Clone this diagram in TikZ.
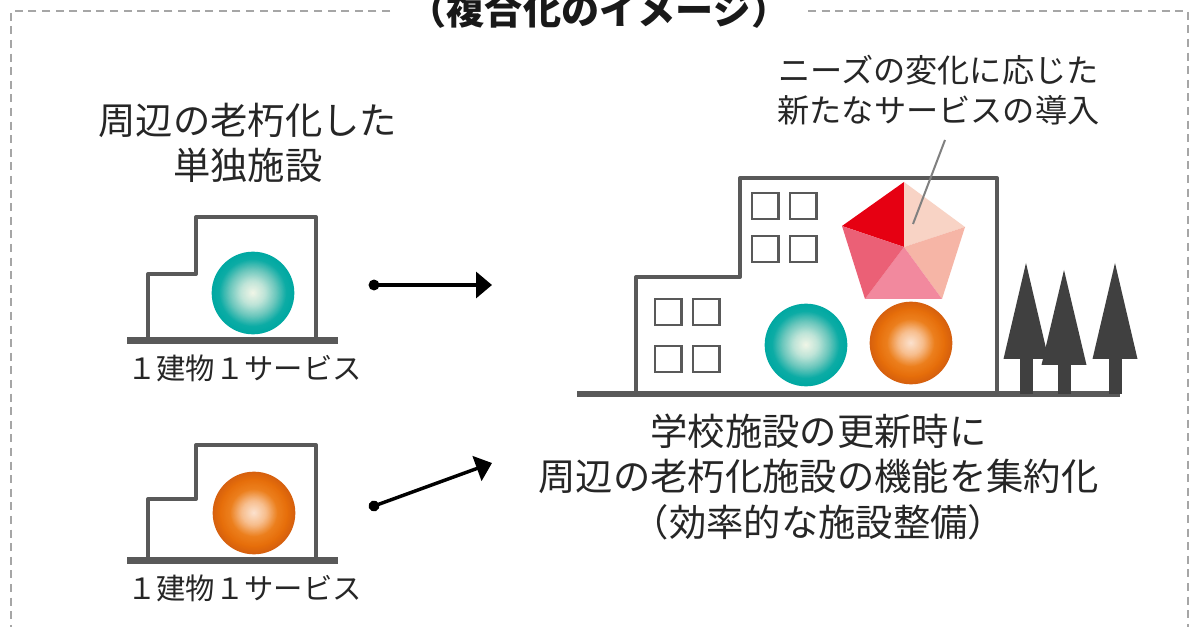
\documentclass[tikz,border=0pt]{standalone}
\usepackage{fontspec}
\setmainfont{Noto Sans CJK JP}
\usetikzlibrary{arrows.meta}
\definecolor{wall}{HTML}{595959}
\definecolor{treeg}{HTML}{404040}
\definecolor{framegray}{HTML}{A6A6A6}
\definecolor{tealA}{RGB}{244,247,232}
\definecolor{tealB}{RGB}{190,228,216}
\definecolor{tealC}{RGB}{104,198,188}
\definecolor{tealD}{RGB}{12,172,165}
\definecolor{tealE}{RGB}{0,168,162}
\definecolor{orgA}{RGB}{252,228,210}
\definecolor{orgB}{RGB}{247,190,142}
\definecolor{orgC}{RGB}{236,128,30}
\definecolor{orgD}{RGB}{230,110,10}
\definecolor{orgE}{RGB}{214,96,14}
\definecolor{petalA}{RGB}{230,0,18}
\definecolor{petalB}{RGB}{248,211,197}
\definecolor{petalC}{RGB}{246,181,166}
\definecolor{petalD}{RGB}{242,137,158}
\definecolor{petalE}{RGB}{235,96,118}
\tikzset{
  x=0.75pt,y=-0.75pt,
  wallline/.style={draw=wall,line width=3pt,line join=round},
  ground/.style={fill=wall,draw=none},
  win/.style={draw=wall,line width=2.2pt,fill=white},
  tree/.style={fill=treeg,draw=none},
  ball/.style={circle,minimum size=62pt,inner sep=0pt},
  flow/.style={line width=2.6pt,black,{Circle[length=8pt]}-{Triangle[length=12pt,width=19.5pt]},shorten <=-4pt},
  frameline/.style={framegray,line width=1.5pt,dash pattern=on 6pt off 4.2pt},
  caption/.style={align=center,font=\fontsize{28}{34}\selectfont,text=black!85,inner sep=0pt},
  small/.style={font=\fontsize{22}{26}\selectfont,text=black!85,inner sep=0pt},
}
% Ball with a radial glow built from concentric discs; #1 is the colour family
\newcommand{\glowball}[4]{%
  \node[ball,fill=#1E] (#2) at (#3,#4) {};
  \foreach \pct in {98,96,...,2}{%
    \ifnum\pct>82
      \pgfmathtruncatemacro\mixval{(\pct-82)*100/18}\colorlet{glow}{#1E!\mixval!#1D}%
    \else\ifnum\pct>58
      \pgfmathtruncatemacro\mixval{(\pct-58)*100/24}\colorlet{glow}{#1D!\mixval!#1C}%
    \else\ifnum\pct>30
      \pgfmathtruncatemacro\mixval{(\pct-30)*100/28}\colorlet{glow}{#1C!\mixval!#1B}%
    \else
      \pgfmathtruncatemacro\mixval{\pct*100/30}\colorlet{glow}{#1B!\mixval!#1A}%
    \fi\fi\fi
    \fill[glow] (#2.center) circle[radius=\pct*0.31pt];
  }}
\newcommand{\fir}[3]{%
  \fill[tree] (#1,#2) -- (#1+22.5,#3) -- (#1-22.5,#3) -- cycle;
  \fill[tree] (#1-6.5,#3) rectangle (#1+6.5,394);}
\begin{document}
\begin{tikzpicture}
\useasboundingbox (0,0) rectangle (1190,627);
\clip (0,0) rectangle (1190,627);
\fill[white] (0,0) rectangle (1190,627);

% Dashed frame, open around the heading
\draw[frameline] (390,11) -- (11,11) -- (11,640);
\draw[frameline] (808,11) -- (1188,11) -- (1188,640);
\node[font=\fontsize{28.6}{33}\bfseries\selectfont,inner sep=0pt,text=black!90] (heading) at (599,10) {（複合化のイメージ）};

% Left column: two separate small buildings
\node[caption] (oldtitle) at (248,143) {周辺の老朽化した\\単独施設};
\draw[wallline] (148,340) -- (148,274) -- (196,274) -- (196,217) -- (316,217) -- (316,340);
\fill[ground] (127,337) rectangle (338,344);
\glowball{teal}{svcA}{253}{293}
\node[small] (oneA) at (244.5,368) {１建物１サービス};

\draw[wallline] (148,560) -- (148,499) -- (196,499) -- (196,445) -- (316,445) -- (316,560);
\fill[ground] (127,557) rectangle (338,564);
\glowball{org}{svcB}{254}{513}
\node[small] (oneB) at (244.5,588) {１建物１サービス};

% Arrows toward the combined facility
\coordinate (a1s) at (374,285);
\coordinate (a1e) at (492,285);
\coordinate (a2s) at (374,506);
\coordinate (a2e) at (492,463);
\draw[flow] (a1s) -- (a1e);
\draw[flow] (a2s) -- (a2e);

% Combined building
\draw[wallline] (636,394) -- (636,277) -- (740,277) -- (740,178) -- (997,178) -- (997,394);
\foreach \x/\y in {752/193,790/193,752/236,790/236,655/299,693/299,655/346,693/346}
  \draw[win] (\x,\y) rectangle ++(26.5,26);

% Pentagon of new services
\coordinate (pc) at (904,247);
\coordinate (pt) at (904,182);
\coordinate (pr) at (965,227);
\coordinate (pbr) at (942,299);
\coordinate (pbl) at (865,299);
\coordinate (pl) at (842,226);
\fill[petalA] (pc) -- (pl) -- (pt) -- cycle;
\fill[petalB] (pc) -- (pt) -- (pr) -- cycle;
\fill[petalC] (pc) -- (pr) -- (pbr) -- cycle;
\fill[petalD] (pc) -- (pbr) -- (pbl) -- cycle;
\fill[petalE] (pc) -- (pbl) -- (pl) -- cycle;

\glowball{teal}{svcC}{806}{345}
\glowball{org}{svcD}{911}{343}

% Ground and trees beside the building
\fill[ground] (577,391) rectangle (1120,397);
\fir{1026}{263}{359}
\fir{1115}{263}{359}
\fir{1064}{270}{365}

% Callout for the new services
\node[align=center,font=\fontsize{24.15}{30}\selectfont,text=black!85,inner sep=0pt] (needs) at (938.5,90) {ニーズの変化に応じた\\新たなサービスの導入};
\coordinate (calloutend) at (913,224);
\coordinate (calloutstart) at (945,140);
\draw[color=black!50,line width=1.5pt] (calloutstart) -- (calloutend);

% Main caption under the building
\node[caption] (maincap) at (818.5,477) {学校施設の更新時に\\周辺の老朽化施設の機能を集約化\\（効率的な施設整備）};
\end{tikzpicture}
\end{document}
